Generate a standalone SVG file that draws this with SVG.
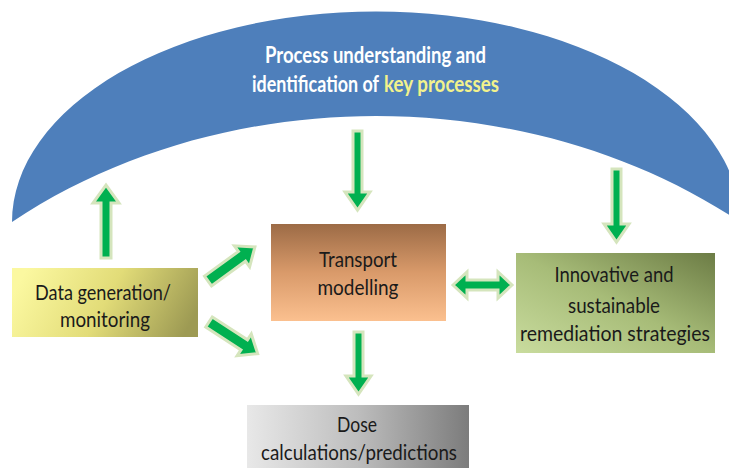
<svg xmlns="http://www.w3.org/2000/svg" width="729" height="468" viewBox="0 0 729 468">
  <style>
    .lbl { font-family: Lato, "Liberation Sans", Arial, sans-serif; font-size: 21px; fill: #1a1a1a; text-anchor: middle; }
    .ttl { font-family: Lato, "Liberation Sans", Arial, sans-serif; font-size: 22px; font-weight: bold; fill: #ffffff; }
    .key { fill: #f2f28c; }
    .arr { fill: #00b050; stroke: #d5e5bd; stroke-width: 3; stroke-linejoin: miter; }
  </style>
  <defs>
    <linearGradient id="gData" x1="0" y1="0.4" x2="1" y2="0.6">
      <stop offset="0" stop-color="#fbf8a0"/>
      <stop offset="0.5" stop-color="#e2dc78"/>
      <stop offset="1" stop-color="#9d9a53"/>
    </linearGradient>
    <linearGradient id="gTrans" x1="0" y1="0" x2="0" y2="1">
      <stop offset="0" stop-color="#9c6b46"/>
      <stop offset="0.5" stop-color="#d99a6a"/>
      <stop offset="1" stop-color="#fbc08f"/>
    </linearGradient>
    <linearGradient id="gInno" x1="0" y1="1" x2="1" y2="0">
      <stop offset="0" stop-color="#c9dc9e"/>
      <stop offset="0.5" stop-color="#a7bc78"/>
      <stop offset="1" stop-color="#6c7c45"/>
    </linearGradient>
    <linearGradient id="gDose" x1="0" y1="0" x2="1" y2="0">
      <stop offset="0" stop-color="#e8e8e8"/>
      <stop offset="0.5" stop-color="#bdbdbd"/>
      <stop offset="1" stop-color="#7c7c7c"/>
    </linearGradient>
  </defs>

  <rect width="729" height="468" fill="#ffffff"/>

  <!-- overarching arc: process understanding -->
  <g id="process-understanding">
    <path d="M12,222 A363,210 0 0 1 740,222 C632,150 502,116 376,116 C250,116 120,150 12,222 Z" fill="#4e7fbb"/>
    <text class="ttl" x="375.5" y="63" text-anchor="middle" textLength="221" lengthAdjust="spacingAndGlyphs">Process understanding and</text>
    <text class="ttl" x="252" y="92" textLength="127" lengthAdjust="spacingAndGlyphs">identification of</text>
    <text class="ttl key" x="384" y="92" textLength="115" lengthAdjust="spacingAndGlyphs">key processes</text>
  </g>

  <g id="data-generation">
    <rect x="12" y="268" width="186" height="69" fill="url(#gData)"/>
    <text class="lbl" x="103" y="300" textLength="136" lengthAdjust="spacingAndGlyphs">Data generation/</text>
    <text class="lbl" x="105" y="327" textLength="90" lengthAdjust="spacingAndGlyphs">monitoring</text>
  </g>

  <g id="transport-modelling">
    <rect x="271" y="224" width="175" height="97" fill="url(#gTrans)"/>
    <text class="lbl" x="358" y="267" textLength="78" lengthAdjust="spacingAndGlyphs">Transport</text>
    <text class="lbl" x="358" y="295" textLength="81" lengthAdjust="spacingAndGlyphs">modelling</text>
  </g>

  <g id="remediation">
    <rect x="516" y="253" width="199" height="100" fill="url(#gInno)"/>
    <text class="lbl" x="614" y="282" textLength="119" lengthAdjust="spacingAndGlyphs">Innovative and</text>
    <text class="lbl" x="614" y="313" textLength="92" lengthAdjust="spacingAndGlyphs">sustainable</text>
    <text class="lbl" x="615" y="341" textLength="190" lengthAdjust="spacingAndGlyphs">remediation strategies</text>
  </g>

  <g id="dose">
    <rect x="247" y="405" width="222" height="70" fill="url(#gDose)"/>
    <text class="lbl" x="357" y="432" textLength="40" lengthAdjust="spacingAndGlyphs">Dose</text>
    <text class="lbl" x="359" y="460" textLength="196" lengthAdjust="spacingAndGlyphs">calculations/predictions</text>
  </g>

  <!-- block arrows -->
  <g id="connectors">
    <!-- data generation up to arc -->
    <polygon class="arr" points="101,258 111,258 111,203 119,203 106,185 93,203 101,203"/>
    <!-- arc down to transport modelling -->
    <polygon class="arr" points="353,131 362,131 362,192 370,192 357.5,210 345,192 353,192"/>
    <!-- arc down to remediation -->
    <polygon class="arr" points="612,169 621,169 621,224 629,224 616.5,242 604,224 612,224"/>
    <!-- transport modelling down to dose -->
    <polygon class="arr" points="354,332 363,332 363,376 371,376 358.5,394 346,376 354,376"/>
    <!-- transport modelling <-> remediation -->
    <polygon class="arr" points="453,285 467,272 467,280 498,280 498,272 512,285 498,298 498,290 467,290 467,298"/>
    <!-- data generation to transport modelling -->
    <polygon class="arr" transform="translate(208,281) rotate(-36)" points="0,-6 42,-6 42,-13 58,0 42,13 42,6 0,6"/>
    <!-- data generation to dose -->
    <polygon class="arr" transform="translate(209,322) rotate(33)" points="0,-6 42,-6 42,-13 58,0 42,13 42,6 0,6"/>
  </g>
</svg>
